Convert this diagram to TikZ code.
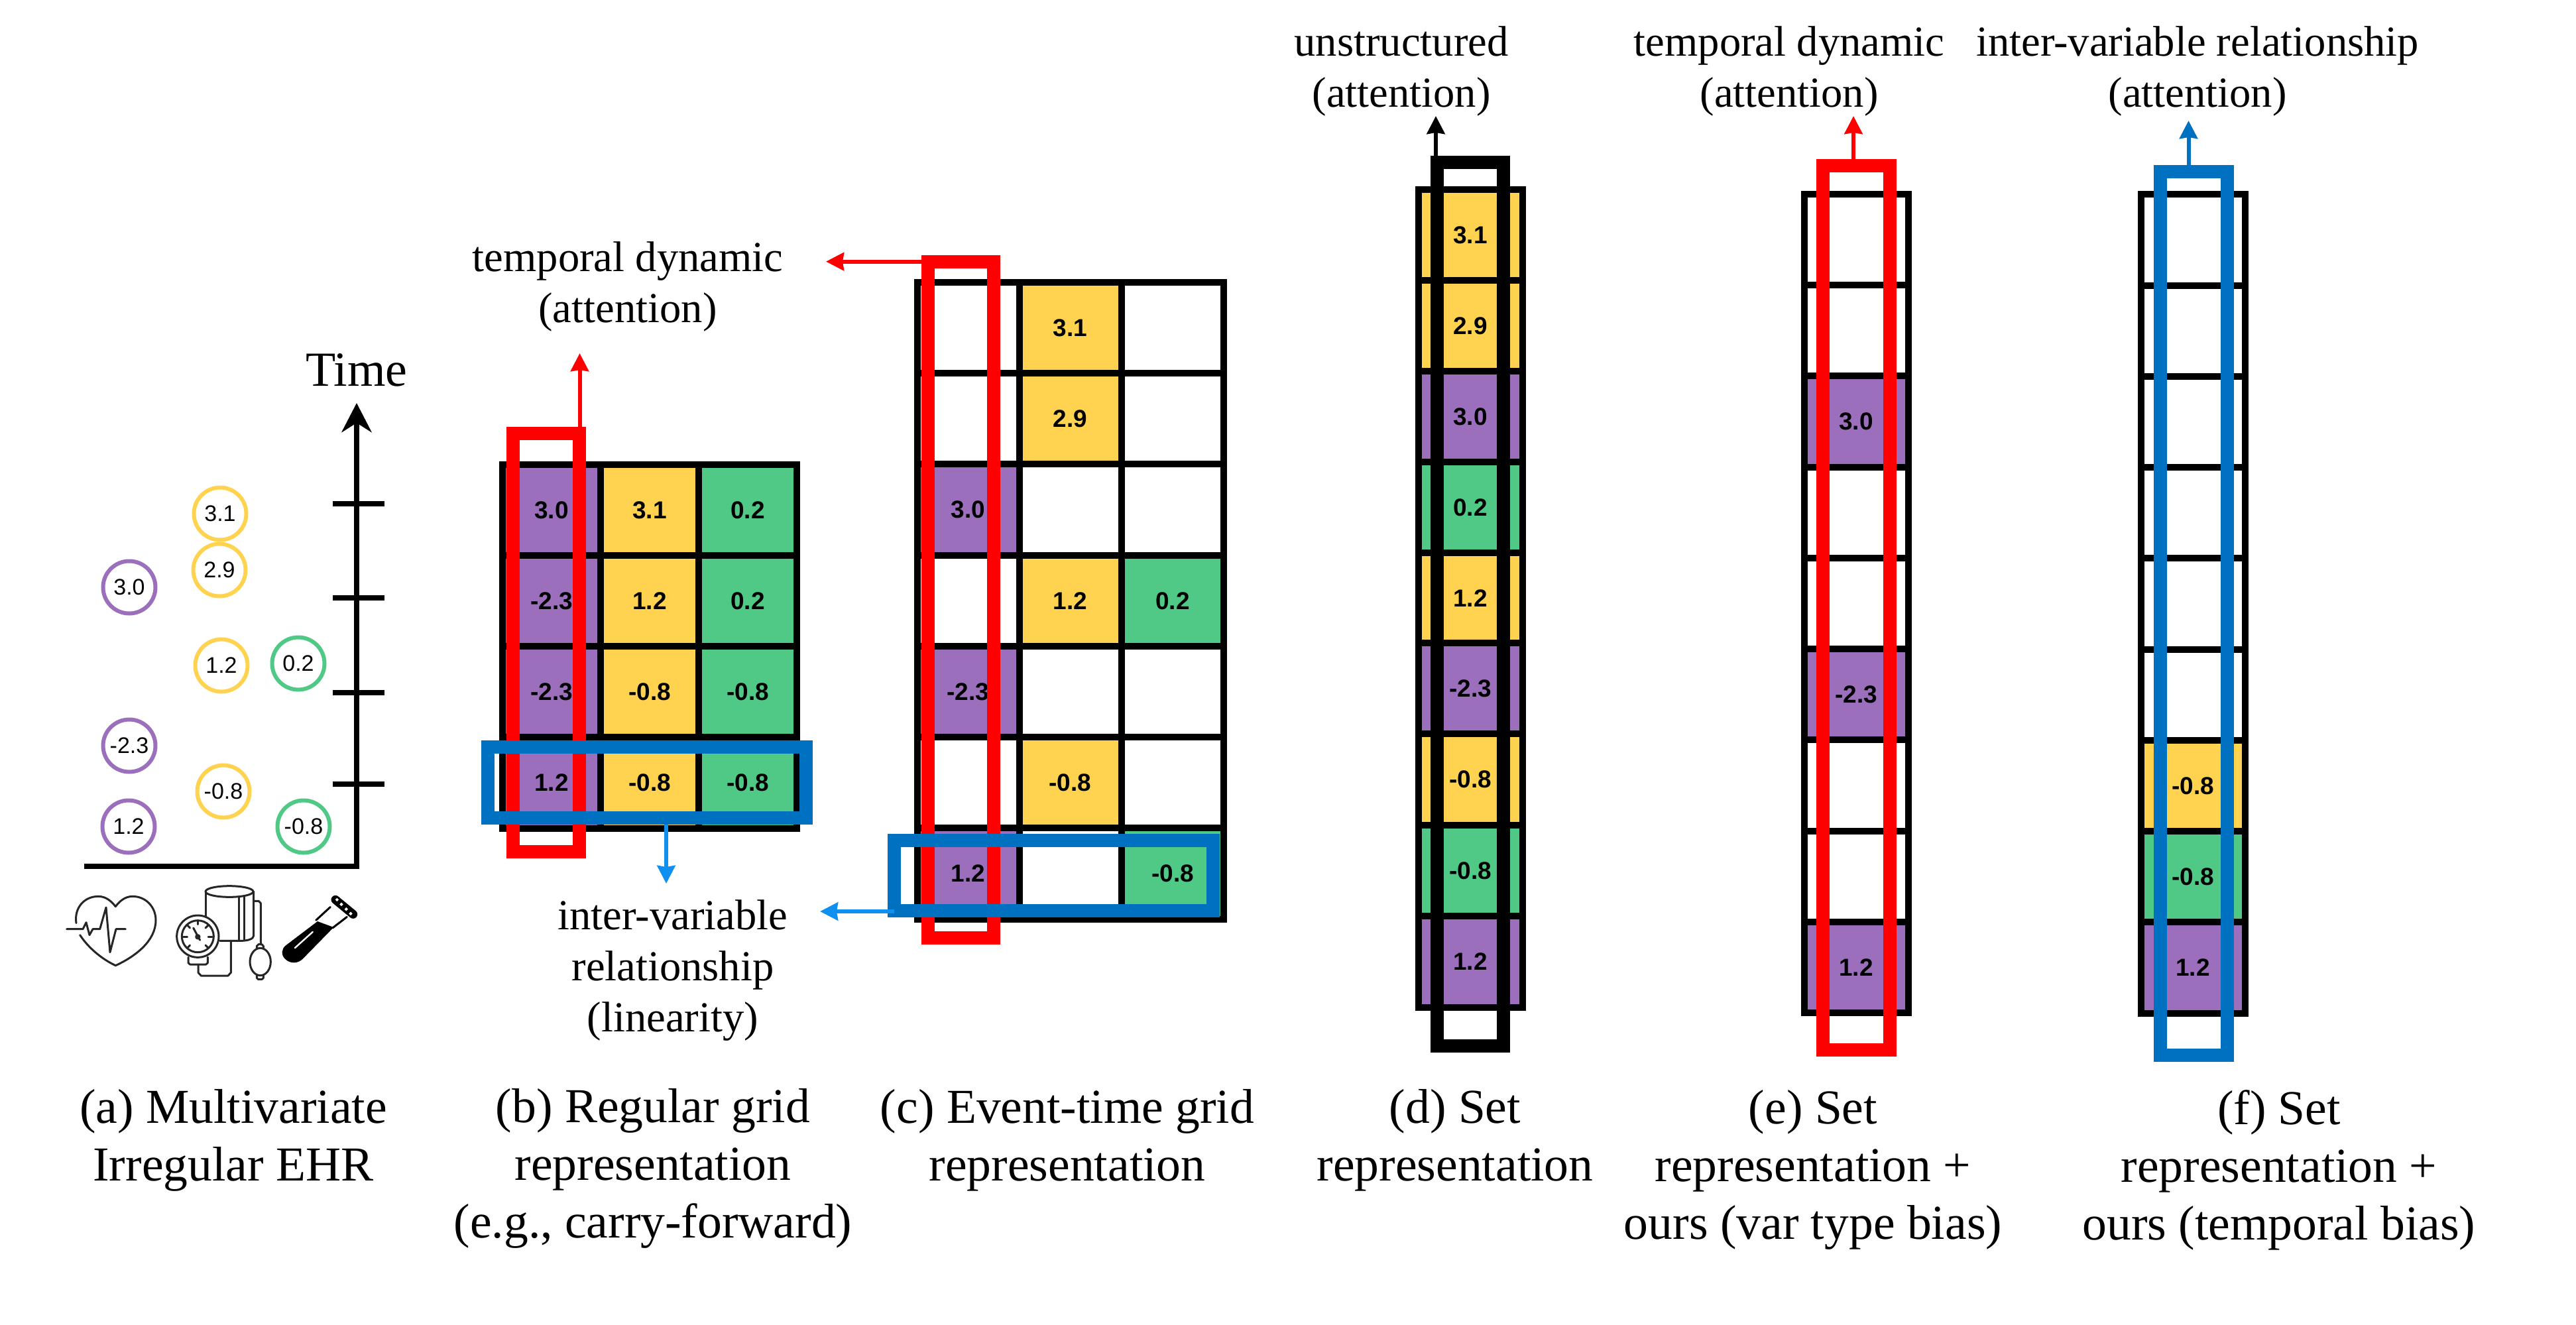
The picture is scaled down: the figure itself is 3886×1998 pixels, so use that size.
\documentclass[tikz,border=0pt]{standalone}
\usepackage{fontspec}
\setmainfont{Liberation Serif}
\newfontfamily\numfont{Liberation Sans}
\usetikzlibrary{arrows.meta}
\definecolor{cpurple}{HTML}{9B6FBB}
\definecolor{cyellow}{HTML}{FFD34F}
\definecolor{cgreen}{HTML}{4FC985}
\definecolor{cblue}{HTML}{0070C0}
\definecolor{cltblue}{HTML}{0F90F0}
\definecolor{cred}{HTML}{FF0000}
\tikzset{
  x=0.5pt,y=-0.5pt,
  label text/.style={font=\fontsize{32.3}{38.5}\selectfont,align=center,inner sep=0pt},
  caption text/.style={font=\fontsize{36.8}{43.5}\selectfont,align=center,inner sep=0pt},
  dot/.style={circle,draw=#1,line width=3pt,minimum size=39.5pt,inner sep=0pt,font=\numfont\fontsize{17}{17}\selectfont},
  cellbase/.style={rectangle,draw=black,line width=5pt,inner sep=0pt,font=\numfont\bfseries\fontsize{18.5}{18.5}\selectfont},
  bcell/.style={cellbase,minimum width=73.85pt,minimum height=68.6pt},
  ccell/.style={cellbase,minimum width=77pt,minimum height=68.6pt},
  scell/.style={cellbase,minimum width=78.5pt,minimum height=68.6pt},
  frame/.style={rectangle,draw=#1,line width=10pt,inner sep=0pt},
  tick line/.style={line width=4pt,black},
  arr/.style={line width=3pt,-{Stealth[length=13.5pt,width=13.5pt,inset=1pt]}},
  icon/.style={line width=1.5pt,black!85,line cap=round,line join=round},
}
\begin{document}
\begin{tikzpicture}
\useasboundingbox (0,0) rectangle (3886,1998);

% ---------- (a) ----------
\coordinate (axl) at (127,1307);
\coordinate (axc) at (538,1307);
\coordinate (axt) at (538,608);
\draw[line width=4pt,-{Stealth[length=22pt,width=22.5pt,inset=7pt]}] (axl) -- (axc) -- (axt);
\foreach \yy/\nn in {760/t1,902/t2,1045/t3,1183/t4}{
  \coordinate (\nn l) at (502,\yy);
  \coordinate (\nn r) at (580,\yy);
  \draw[tick line] (\nn l) -- (\nn r);
}
\node[font=\fontsize{37}{37}\selectfont,inner sep=0pt] (time) at (538,558) {Time};
\foreach \nn/\xx/\yy/\cc/\vv in {
  a1/332/775/cyellow/3.1, a2/331/860/cyellow/2.9, a3/195/886/cpurple/3.0,
  a4/334/1004/cyellow/1.2, a5/450/1001/cgreen/0.2, a6/195/1125/cpurple/-2.3,
  a7/337/1194/cyellow/-0.8, a8/194/1247/cpurple/1.2, a9/458/1247/cgreen/-0.8}{
  \node[dot=\cc] (\nn) at (\xx,\yy) {\vv};
}
% icons
\begin{scope}[shift={(80,1320)},x=0.16667pt,y=-0.16667pt]
  % heart
  \draw[icon] (105,218) .. controls (95,150) and (140,97) .. (205,97)
     .. controls (240,97) and (265,120) .. (283,143)
     .. controls (300,120) and (325,97) .. (360,97)
     .. controls (420,97) and (465,145) .. (465,205)
     .. controls (465,300) and (370,370) .. (283,410)
     .. controls (220,380) and (160,330) .. (122,272);
  \draw[icon] (62,245) -- (135,245) -- (150,215) -- (165,272) -- (180,245) -- (212,245)
     -- (240,147) -- (258,350) -- (285,245) -- (328,245);
  % gauge
  \draw[icon] (655,278) circle[radius=95*0.16667pt];
  \draw[icon] (655,278) circle[radius=72*0.16667pt];
  \draw[icon] (635,240) -- (665,295);
  \draw[icon] (655,280) circle[radius=8*0.16667pt];
  \foreach \ax/\ay/\bx/\by in {655/206/655/224, 590/280/608/280, 720/280/702/280,
     608/228/620/240, 702/228/690/240, 608/330/620/318, 702/330/690/318}{
    \draw[icon] (\ax,\ay) -- (\bx,\by);
  }
  \draw[icon] (612,372) -- (612,398) -- (620,405) -- (692,405) -- (700,398) -- (700,372);
  \draw[icon] (657,405) -- (657,442) -- (670,456) -- (792,456) -- (805,442) -- (805,300);
  % cuff
  \draw[icon] (798,75) ellipse[x radius=108*0.16667pt,y radius=25*0.16667pt];
  \draw[icon] (690,75) -- (690,190);
  \draw[icon] (908,75) -- (908,275) .. controls (908,290) and (880,298) .. (850,298) -- (755,298);
  \draw[icon] (840,98) -- (840,296);
  \draw[icon] (865,95) -- (865,292);
  \draw[icon] (908,118) -- (930,118) -- (940,128) -- (940,315);
  \draw[icon] (938,393) ellipse[x radius=47*0.16667pt,y radius=62*0.16667pt];
  \draw[icon] (922,332) -- (922,322) -- (930,314) -- (945,314) -- (952,322) -- (952,332);
  \draw[icon] (922,455) -- (922,466) -- (928,472) -- (946,472) -- (952,466) -- (952,455);
  % test tube
  \fill[black] (1197,210) -- (1270,237) -- (1130,380) .. controls (1110,400) and (1075,405) .. (1050,380)
     .. controls (1030,360) and (1035,335) .. (1052,320) -- cycle;
  \draw[icon,black] (1190,205) -- (1255,145);
  \draw[icon,black] (1265,240) -- (1330,190);
  \draw[line width=1.2pt,white,line cap=round] (1095,330) -- (1175,258);
  \draw[line width=6.5pt,black,line cap=round] (1278,112) -- (1358,178);
  \foreach \cx/\cy in {1285/112, 1305/133, 1327/155, 1347/175}{
    \fill[white] (\cx,\cy-8) -- (\cx+8,\cy) -- (\cx,\cy+8) -- (\cx-8,\cy) -- cycle;
  }
\end{scope}
\node[caption text] (capa) at (352,1720) {(a) Multivariate\\Irregular EHR};

% ---------- (b) ----------
\foreach \nn/\xx/\yy/\cc/\vv in {
  b11/832/769.5/cpurple/3.0, b12/980/769.5/cyellow/3.1, b13/1128/769.5/cgreen/0.2,
  b21/832/906.5/cpurple/-2.3, b22/980/906.5/cyellow/1.2, b23/1128/906.5/cgreen/0.2,
  b31/832/1043.5/cpurple/-2.3, b32/980/1043.5/cyellow/-0.8, b33/1128/1043.5/cgreen/-0.8,
  b41/832/1181/cpurple/1.2, b42/980/1181/cyellow/-0.8, b43/1128/1181/cgreen/-0.8}{
  \node[bcell,fill=\cc] (\nn) at (\xx,\yy) {\vv};
}
\node[frame=cred,minimum width=50pt,minimum height=315.5pt] (redb) at (824,969.5) {};
\node[frame=cblue,minimum width=239.75pt,minimum height=53.5pt] (blueb) at (976,1180.5) {};
\coordinate (redbtip) at (874.5,533);
\coordinate (bluebtip) at (1005,1333);
\draw[arr,cred] (redb.north -| redbtip) -- (redbtip);
\draw[arr,cltblue] (blueb.south -| bluebtip) -- (bluebtip);
\node[label text] (tdb) at (947,432) {temporal dynamic\\(attention)};
\node[label text] (ivb) at (1015,1464) {inter-variable\\relationship\\(linearity)};
\node[caption text] (capb) at (985,1763) {(b) Regular grid\\representation\\(e.g., carry-forward)};

% ---------- (c) ----------
\foreach \nn/\xx/\yy/\cc/\vv in {
  c11/1460.5/494.5/white/, c12/1614.5/494.5/cyellow/3.1, c13/1769/494.5/white/,
  c21/1460.5/631.5/white/, c22/1614.5/631.5/cyellow/2.9, c23/1769/631.5/white/,
  c31/1460.5/769/cpurple/3.0, c32/1614.5/769/white/, c33/1769/769/white/,
  c41/1460.5/906.5/white/, c42/1614.5/906.5/cyellow/1.2, c43/1769/906.5/cgreen/0.2,
  c51/1460.5/1043.5/cpurple/-2.3, c52/1614.5/1043.5/white/, c53/1769/1043.5/white/,
  c61/1460.5/1181/white/, c62/1614.5/1181/cyellow/-0.8, c63/1769/1181/white/,
  c71/1460.5/1318/cpurple/1.2, c72/1614.5/1318/white/, c73/1769/1318/cgreen/-0.8}{
  \node[ccell,fill=\cc] (\nn) at (\xx,\yy) {\vv};
}
\node[frame=cred,minimum width=49.5pt,minimum height=510pt] (redc) at (1449.5,904.5) {};
\node[frame=cblue,minimum width=240.5pt,minimum height=53pt] (bluec) at (1589.5,1321) {};
\coordinate (redctip) at (1246,394.6);
\coordinate (bluectip) at (1237,1375);
\draw[arr,cred] (redc.west |- redctip) -- (redctip);
\draw[arr,cltblue] ([xshift=5pt]bluec.west |- bluectip) -- (bluectip);
\node[caption text] (capc) at (1610,1720) {(c) Event-time grid\\representation};

% ---------- (d) ----------
\foreach \nn/\yy/\cc/\vv in {
  d1/354.3/cyellow/3.1, d2/491.5/cyellow/2.9, d3/628.7/cpurple/3.0,
  d4/766/cgreen/0.2, d5/903/cyellow/1.2, d6/1039/cpurple/-2.3,
  d7/1176/cyellow/-0.8, d8/1314/cgreen/-0.8, d9/1451/cpurple/1.2}{
  \node[scell,fill=\cc] (\nn) at (2218,\yy) {\vv};
}
\node[frame=black,minimum width=50pt,minimum height=666.5pt] (blackd) at (2218,911.5) {};
\coordinate (tipd) at (2166,175);
\draw[arr,black] (blackd.north -| tipd) -- (tipd);
\node[label text] (ld) at (2114,107) {unstructured\\(attention)};
\node[caption text] (capd) at (2195,1720) {(d) Set\\representation};

% ---------- (e) ----------
\foreach \nn/\yy/\cc/\vv in {
  e1/361.6/white/, e2/498.9/white/, e3/636/cpurple/3.0,
  e4/773.4/white/, e5/910.6/white/, e6/1047.9/cpurple/-2.3,
  e7/1185/white/, e8/1322.4/white/, e9/1459.6/cpurple/1.2}{
  \node[scell,fill=\cc] (\nn) at (2800,\yy) {\vv};
}
\node[frame=cred,minimum width=50.3pt,minimum height=667pt] (rede) at (2800.3,917) {};
\coordinate (tipe) at (2796,175);
\draw[arr,cred] (rede.north -| tipe) -- (tipe);
\node[label text] (le) at (2699,107) {temporal dynamic\\(attention)};
\node[caption text] (cape) at (2735,1765) {(e) Set\\representation +\\ours (var type bias)};

% ---------- (f) ----------
\foreach \nn/\yy/\cc/\vv in {
  f1/362/white/, f2/499.3/white/, f3/636.5/white/,
  f4/773.8/white/, f5/911/white/, f6/1048.3/white/,
  f7/1185.5/cyellow/-0.8, f8/1322.8/cgreen/-0.8, f9/1460/cpurple/1.2}{
  \node[scell,fill=\cc] (\nn) at (3308,\yy) {\vv};
}
\node[frame=cblue,minimum width=50.5pt,minimum height=666.5pt] (bluef) at (3309.5,925.5) {};
\coordinate (tipf) at (3301.5,182);
\draw[arr,cblue] (bluef.north -| tipf) -- (tipf);
\node[label text] (lf) at (3315,107) {inter-variable relationship\\(attention)};
\node[caption text] (capf) at (3438,1765) {(f) Set\\representation +\\ours (temporal bias)};
\end{tikzpicture}
\end{document}
